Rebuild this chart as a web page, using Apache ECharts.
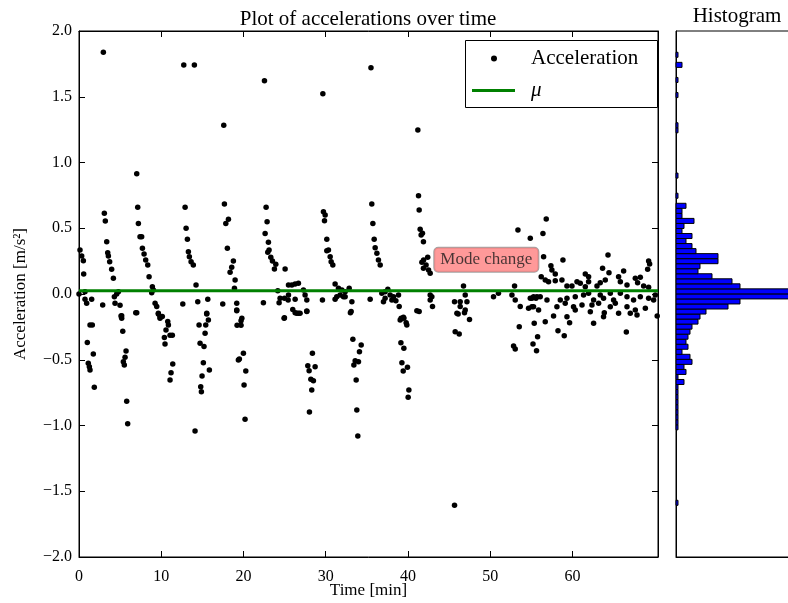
<!DOCTYPE html>
<html><head><meta charset="utf-8">
<script src="https://cdn.jsdelivr.net/npm/echarts@6/dist/echarts.min.js"></script>
<style>html,body{margin:0;padding:0;background:#fff}#c{width:788px;height:603px}</style>
</head><body><div id="c"></div>
<script>
// ---- data ----
const timeMin = [0, 10, 20, 30, 40, 50, 60];
const accelTicks = [-2, -1.5, -1, -0.5, 0, 0.5, 1, 1.5, 2];
const accelPoints = [
[0.12,0.335],[0.33,0.289],[0.53,0.253],[0.57,0.152],[0.73,0.018],[0.0,0.0],[0.93,-0.07],[0.73,-0.04],[1.54,-0.04],
[1.01,-0.368],[1.34,-0.236],[1.62,-0.236],[1.74,-0.456],[1.13,-0.527],[1.26,-0.553],[1.34,-0.578],[1.86,-0.71],
[2.96,1.838],[3.08,0.614],[3.2,0.555],[3.37,0.398],[3.49,0.314],[3.57,0.289],[3.73,0.246],[3.97,0.188],[4.18,0.119],[2.88,-0.084],[4.3,-0.02],[4.58,0.0],[4.79,0.018],[4.38,-0.07],[4.99,-0.086],[5.19,-0.165],[5.11,-0.167],[5.19,-0.185],[5.32,-0.284],[5.72,-0.433],[5.6,-0.481],[5.39,-0.515],[5.51,-0.54],[5.8,-0.816],[5.92,-0.986],[6.9,-0.142],
[7.02,0.915],[7.14,0.659],[7.22,0.537],[7.42,0.436],[7.62,0.436],[7.71,0.347],[7.91,0.304],[8.11,0.258],[8.36,0.22],[8.52,0.132],[8.92,0.056],[9.04,0.03],[8.84,0.01],[9.25,-0.07],[9.45,-0.096],[9.65,-0.147],[9.85,-0.172],[7.02,-0.142],[9.65,-0.152],[9.85,-0.185],[10.13,-0.172],[10.79,-0.21],[10.87,-0.236],[10.58,-0.274],[10.38,-0.33],[11.07,-0.314],[11.35,-0.314],[10.46,-0.38],[11.4,-0.532],[11.19,-0.598],[11.07,-0.654],
[12.74,1.741],[14.03,1.741],[12.9,0.659],[13.02,0.5],[13.18,0.416],[13.3,0.322],[13.42,0.284],[13.63,0.246],[13.9,0.22],[14.23,0.068],[14.44,-0.058],[12.62,-0.076],[15.66,-0.04],[15.53,-0.147],[14.6,-0.236],[15.53,-0.152],[15.73,-0.198],[15.41,-0.236],[15.33,-0.299],[14.72,-0.375],[15.2,-0.4],[15.12,-0.522],[15.85,-0.578],[14.96,-0.624],[14.8,-0.705],[14.88,-0.743],[14.11,-1.042],
[17.6,1.283],[17.68,0.684],[17.85,0.537],[18.17,0.568],[18.04,0.347],[18.77,0.251],[18.57,0.203],[18.37,0.165],[18.98,0.106],[18.9,0.043],[17.48,-0.076],[19.18,-0.07],[19.18,-0.122],[19.8,-0.185],[19.18,-0.127],[19.7,-0.203],[19.22,-0.238],[19.7,-0.238],[19.99,-0.451],[19.5,-0.494],[19.38,-0.502],[20.28,-0.586],[20.07,-0.692],[20.19,-0.953],
[22.55,1.622],[22.75,0.659],[22.87,0.55],[22.63,0.461],[23.03,0.393],[23.11,0.335],[22.95,0.317],[23.32,0.279],[23.52,0.251],[23.93,0.226],[23.76,0.19],[25.06,0.19],[25.47,0.068],[25.88,0.068],[26.28,0.076],[26.68,0.081],[24.17,0.025],[24.45,-0.033],[24.98,-0.033],[25.47,-0.008],[27.29,0.03],[27.49,-0.008],[27.7,-0.046],[26.28,-0.04],[24.33,-0.066],[25.43,-0.046],[22.42,-0.066],[25.99,-0.117],[26.48,-0.147],[26.88,-0.147],[27.7,-0.129],[24.98,-0.18],[24.94,-0.185],[26.28,-0.142],[26.68,-0.147],[27.7,-0.134],
[28.38,-0.451],[27.82,-0.545],[28.71,-0.553],[27.98,-0.583],[28.19,-0.649],[28.5,-0.659],[28.3,-0.73],[28.02,-0.897],
[29.65,1.523],[29.72,0.626],[29.93,0.601],[29.85,0.557],[30.13,0.416],[30.33,0.335],[30.13,0.329],[30.54,0.284],[30.66,0.246],[30.86,0.22],[31.14,0.076],[31.55,0.043],[31.96,0.03],[32.36,0.018],[32.85,0.043],[31.34,-0.02],[31.75,-0.008],[32.16,-0.02],[32.36,-0.02],[31.14,-0.04],[29.6,-0.046],[33.18,-0.058],[33.09,-0.134],[33.0,-0.142],[33.3,-0.344],[34.31,-0.388],[34.1,-0.439],[33.58,-0.507],[33.98,-0.515],[33.42,-0.54],[33.7,-0.654],[33.78,-0.882],[33.9,-1.08],
[35.5,1.721],[35.6,0.684],[35.73,0.537],[35.89,0.416],[36.01,0.352],[36.22,0.309],[36.41,0.258],[36.62,0.22],[37.55,0.036],[37.22,0.018],[36.82,0.005],[37.83,-0.008],[38.24,-0.02],[38.85,-0.008],[37.22,-0.033],[38.04,-0.046],[37.02,-0.058],[38.53,-0.052],[35.4,-0.04],[38.93,-0.096],[39.45,-0.177],[39.17,-0.185],[39.05,-0.198],[39.5,-0.185],[39.78,-0.218],[39.86,-0.236],[39.14,-0.37],[39.5,-0.413],[39.26,-0.522],[39.94,-0.557],[39.42,-0.586],[40.11,-0.73],[40.02,-0.786],
[41.2,1.247],[41.28,0.748],[41.36,0.639],[41.48,0.492],[41.76,0.462],[41.6,0.449],[41.88,0.398],[41.69,0.241],[41.9,0.258],[41.88,0.195],[41.08,-0.127],[41.36,-0.134],[42.4,0.279],[42.2,0.22],[42.5,0.182],[42.7,0.157],[42.7,-0.008],[42.9,-0.02],[42.7,-0.046],[42.98,-0.096],
[46.75,0.061],[45.66,-0.058],[46.35,-0.058],[46.96,-0.008],[47.17,-0.058],[46.35,-0.096],[46.96,-0.122],[45.95,-0.147],[46.1,-0.152],[46.87,-0.142],[47.48,-0.193],[45.74,-0.287],[46.23,-0.304],[45.66,-1.607],[50.4,-0.02],[51.0,0.005],[52.96,0.061],[52.64,-0.008],[53.04,-0.046],[53.65,-0.096],[53.53,-0.249],[52.84,-0.395],[53.04,-0.418],[53.37,0.487],
[54.87,0.424],[56.41,0.461],[56.81,0.57],[56.49,0.284],[58.84,0.258],[57.38,0.215],[57.5,0.182],[64.32,0.296],[63.66,0.195],[64.44,0.162],[66.22,0.175],[69.26,0.251],[69.38,0.228],[69.14,0.188],[57.91,0.152],[56.2,0.132],
[56.69,0.106],[57.09,0.094],[57.91,0.101],[58.72,0.106],[59.33,0.061],[59.94,0.061],[60.55,0.094],[61.56,0.152],[61.96,0.132],[60.95,0.081],[61.96,0.094],[61.56,0.056],[62.98,0.061],[63.38,0.086],[63.99,0.106],[65.61,0.132],[65.82,0.094],[66.63,0.068],[67.64,0.119],[68.25,0.127],[67.92,0.086],[68.65,0.061],[69.26,0.051],
[55.68,-0.02],[56.08,-0.02],[55.07,-0.033],[56.9,-0.046],[58.52,-0.046],[59.33,-0.033],[60.34,-0.02],[61.35,-0.008],[61.96,0.005],[62.57,-0.046],[63.38,-0.008],[63.78,-0.033],[64.6,0.005],[65.0,-0.046],[65.82,0.005],[66.63,-0.02],[67.43,-0.046],[68.25,-0.02],[69.26,-0.033],[70.07,-0.008],[69.87,-0.046],
[58.11,-0.097],[59.12,-0.071],[60.13,-0.097],[61.16,-0.084],[62.37,-0.084],[63.18,-0.071],[64.6,-0.097],[65.21,-0.071],[66.63,-0.097],[67.64,-0.122],[68.86,-0.109],[55.88,-0.122],[57.7,-0.167],[59.33,-0.173],[63.78,-0.173],[62.17,-0.135],[65.61,-0.147],[67.03,-0.147],[67.85,-0.16],
[55.27,-0.097],[55.35,-0.223],[56.69,-0.211],[58.24,-0.279],[59.0,-0.317],[59.65,-0.218],[60.34,-0.122],[62.57,-0.223],[63.87,-0.142],[66.55,-0.289],[70.3,-0.167],[55.76,-0.325],[55.2,-0.38],[55.63,-0.431],
[54.66,-0.109],[54.87,-0.033],[55.27,-0.02],[55.56,-0.033],[55.07,-0.097]
];
const meanAccel = 0.025;
const timeRange = [0, 70.4];
const modeChangeAt = [43.2, 0.26];
const modeChangeText = 'Mode change';
// histogram: bin index k covers [histLow + k*histWidth, histLow + (k+1)*histWidth]
const histLow = -1.607;
const histWidth = 0.03828;
const histBinIndex = [0,15,16,17,18,19,20,21,22,23,24,25,26,27,28,29,30,31,32,33,34,35,36,37,38,39,40,41,42,43,44,45,46,47,48,49,50,51,52,53,54,55,56,57,58,59,61,65,74,75,81,84,87,89];
const histCounts   = [1, 1, 1, 1, 1, 1, 1, 1, 1, 1, 4, 1, 5, 4, 8, 7, 3, 6, 5, 6, 7, 8,11,12,15,26,32,62,60,32,28,18,11,12,21,21,10, 8, 5, 8, 3, 4, 9, 3, 3, 5, 1, 1, 1, 1, 1, 1, 3, 1];

// ---- chart ----
const SERIF = '"Liberation Serif", "Times New Roman", serif';
const fmtTick = v => (v < 0 ? '\u2212' : '') + Math.abs(v).toFixed(1);
const histData = histBinIndex.map((k, i) => [histLow + k * histWidth, histLow + (k + 1) * histWidth, histCounts[i]]);

const axisBase = {
  axisLine: {show: true, onZero: false, lineStyle: {color: '#000', width: 1}},
  splitLine: {show: false}
};

const chart = echarts.init(document.getElementById('c'), null, {renderer: 'canvas'});
chart.setOption({
  animation: false,
  backgroundColor: '#fff',
  grid: [
    {left: 79, top: 31, width: 579, height: 526, outerBoundsMode: 'none', containLabel: false,
     show: true, borderColor: '#000', borderWidth: 1, backgroundColor: 'transparent'},
    {left: 676, top: 31, width: 300, height: 526, outerBoundsMode: 'none', containLabel: false,
     show: true, borderColor: '#000', borderWidth: 1, backgroundColor: 'transparent'}
  ],
  graphic: [
    {type: 'text', x: 368, y: 9, style: {text: 'Plot of accelerations over time', font: '21px ' + SERIF, fill: '#000', textAlign: 'center'}},
    {type: 'text', x: 737, y: 6, style: {text: 'Histogram', font: '21px ' + SERIF, fill: '#000', textAlign: 'center'}},
    {type: 'rect', shape: {x: 465.5, y: 40.5, width: 192, height: 67}, style: {fill: '#fff', stroke: '#000', lineWidth: 1}, z: 10}
  ],
  legend: [
    {data: [{name: 'Acceleration', icon: 'circle'}], left: 491, top: 48, padding: 0, itemWidth: 6, itemHeight: 6,
     selectedMode: false, z: 20, textStyle: {fontFamily: SERIF, fontSize: 21, color: '#000', padding: [0, 0, 0, 29]}},
    {data: [{name: '\u03bc', icon: 'rect'}], left: 472, top: 80, padding: 0, itemWidth: 43, itemHeight: 3,
     selectedMode: false, z: 20, textStyle: {fontFamily: SERIF, fontSize: 21, fontStyle: 'italic', color: '#000', padding: [0, 0, 0, 11]}}
  ],
  xAxis: [
    Object.assign({gridIndex: 0, type: 'value', min: timeRange[0], max: timeRange[1], interval: 10, position: 'bottom',
     axisTick: {inside: true, length: 6, customValues: timeMin, lineStyle: {color: '#000'}},
     axisLabel: {color: '#000', fontFamily: SERIF, fontSize: 16, margin: 12, customValues: timeMin, formatter: v => String(v)},
     name: 'Time [min]', nameLocation: 'middle', nameGap: 25, nameMoveOverlap: false,
     nameTextStyle: {color: '#000', fontFamily: SERIF, fontSize: 17}}, axisBase),
    Object.assign({gridIndex: 0, type: 'value', min: timeRange[0], max: timeRange[1], interval: 10, position: 'top',
     axisTick: {inside: true, length: 6, customValues: timeMin, lineStyle: {color: '#000'}}, axisLabel: {show: false}}, axisBase),
    Object.assign({gridIndex: 1, type: 'value', min: 0, max: 150, position: 'bottom',
     axisTick: {show: false}, axisLabel: {show: false}}, axisBase)
  ],
  yAxis: [
    Object.assign({gridIndex: 0, type: 'value', min: -2, max: 2, interval: 0.5, position: 'left',
     axisTick: {inside: true, length: 6, lineStyle: {color: '#000'}},
     axisLabel: {color: '#000', fontFamily: SERIF, fontSize: 16, margin: 7, formatter: v => accelTicks.includes(v) ? fmtTick(v) : ''},
     name: 'Acceleration [m/s\u00b2]', nameLocation: 'middle', nameGap: 50, nameRotate: 90,
     nameTextStyle: {color: '#000', fontFamily: SERIF, fontSize: 17}}, axisBase),
    Object.assign({gridIndex: 0, type: 'value', min: -2, max: 2, interval: 0.5, position: 'right',
     axisTick: {inside: true, length: 6, lineStyle: {color: '#000'}}, axisLabel: {show: false}}, axisBase),
    Object.assign({gridIndex: 1, type: 'value', min: -2, max: 2, position: 'left',
     axisTick: {show: false}, axisLabel: {show: false}}, axisBase)
  ],
  series: [
    {name: 'Acceleration', type: 'scatter', xAxisIndex: 0, yAxisIndex: 0, data: accelPoints,
     symbol: 'circle', symbolSize: 5.5, itemStyle: {color: '#000', opacity: 1}, z: 3},
    {name: '\u03bc', type: 'line', xAxisIndex: 0, yAxisIndex: 0, data: [[timeRange[0], meanAccel], [timeRange[1], meanAccel]],
     showSymbol: false, symbol: 'none', lineStyle: {color: '#008000', width: 3}, itemStyle: {color: '#008000'}, z: 4},
    {name: 'annotation', type: 'scatter', xAxisIndex: 0, yAxisIndex: 0, data: [modeChangeAt], symbolSize: 0, silent: true, z: 6,
     label: {show: true, position: 'right', distance: 0, formatter: modeChangeText, color: '#1a1a1a', fontFamily: SERIF, fontSize: 17,
       backgroundColor: '#ff7f7f', borderColor: '#8c8c8c', borderWidth: 1, borderRadius: 4, padding: [4, 6, 3, 6]}},
    {name: 'hist', type: 'custom', xAxisIndex: 2, yAxisIndex: 2, data: histData, silent: true,
     renderItem: (params, api) => {
       const p0 = api.coord([0, api.value(1)]);
       const p1 = api.coord([api.value(2), api.value(0)]);
       return {type: 'rect', shape: {x: p0[0], y: p0[1], width: p1[0] - p0[0], height: p1[1] - p0[1]},
               style: {fill: '#0000ff', stroke: '#000', lineWidth: 1}};
     }}
  ]
});
</script></body></html>
